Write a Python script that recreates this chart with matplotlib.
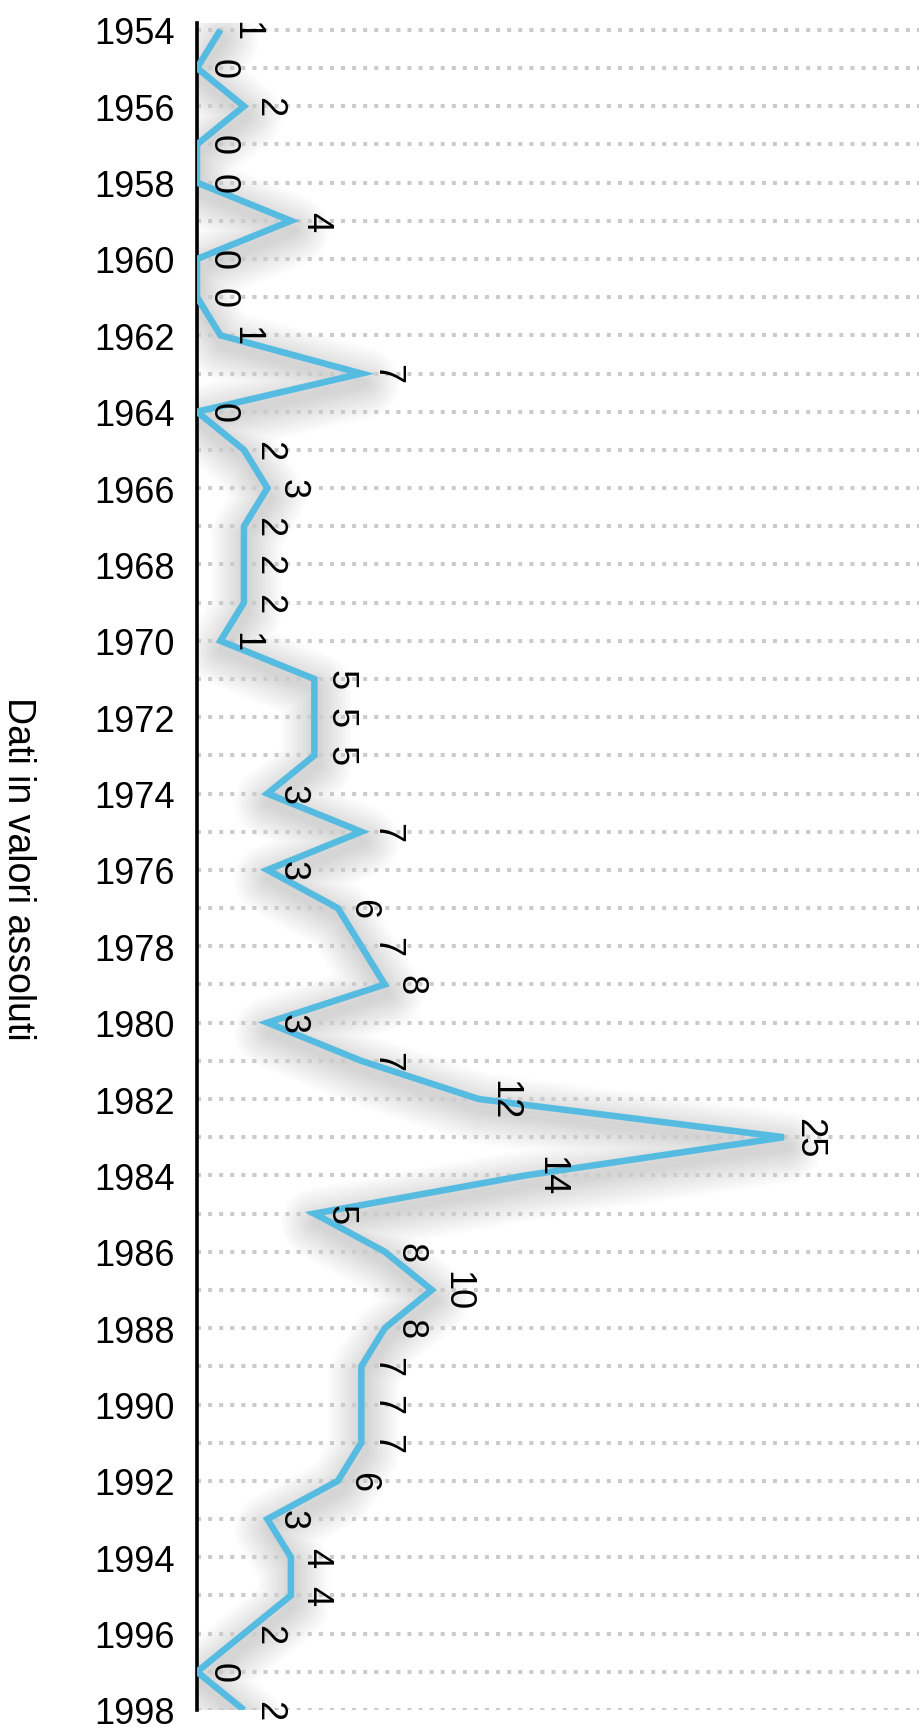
import matplotlib
matplotlib.use("Agg")
import matplotlib.pyplot as plt

years = list(range(1954, 1999))
values = [1, 0, 2, 0, 0, 4, 0, 0, 1, 7, 0, 2, 3, 2, 2, 2, 1, 5, 5, 5,
          3, 7, 3, 6, 7, 8, 3, 7, 12, 25, 14, 5, 8, 10, 8, 7, 7, 7, 6, 3,
          4, 4, 2, 0, 2]
tick_years = list(range(1954, 1999, 2))
axis_title = "Dati in valori assoluti"

plt.rcParams['font.family'] = ['Liberation Sans', 'DejaVu Sans']

W, H = 920, 1731
fig = plt.figure(figsize=(W / 100, H / 100), dpi=100)
left = 197 / W
bottom = (H - 1711) / H
top = (H - 24) / H
ax = fig.add_axes([left, bottom, 1 - left, top - bottom])

ax.set_xlim(0, 30.8)
ax.set_ylim(1998, 1953.82)

# gridlines
for y in years:
    ax.axhline(y, color='#cbcbcb', lw=2.9, linestyle=(0, (1.0, 1.75)), zorder=1)

# soft blurred shadow built from many faint strokes
sx = [v + 0.1 for v in values]
sy = [y + 0.25 for y in years]
for i in range(14):
    lw = 6 + i * 3.5
    ax.plot(sx, sy, color='black', lw=lw, alpha=0.0115,
            solid_joinstyle='round', solid_capstyle='round', zorder=0.5)

ax.plot(values, years, color='#56bbe0', lw=4.7, solid_joinstyle='miter',
        solid_capstyle='butt', zorder=3)

for v, y in zip(values, years):
    ax.annotate(str(v), (v, y), xytext=(5.5, 0), textcoords='offset points',
                rotation=-90, ha='left', va='center', fontsize=26, color='black', zorder=4)

for s in ['top', 'right', 'bottom']:
    ax.spines[s].set_visible(False)
ax.spines['left'].set_color('black')
ax.spines['left'].set_linewidth(2.6)
ax.spines['left'].set_zorder(2.5)

ax.set_xticks([])
ax.set_yticks(tick_years)
ax.set_yticklabels([str(t) for t in tick_years], fontsize=26)
ax.tick_params(axis='y', length=0, pad=16)

fig.text(18 / W, 1 - 869 / H, axis_title, rotation=-90, ha='center', va='center', fontsize=27)

fig.savefig("out.png", dpi=100)
